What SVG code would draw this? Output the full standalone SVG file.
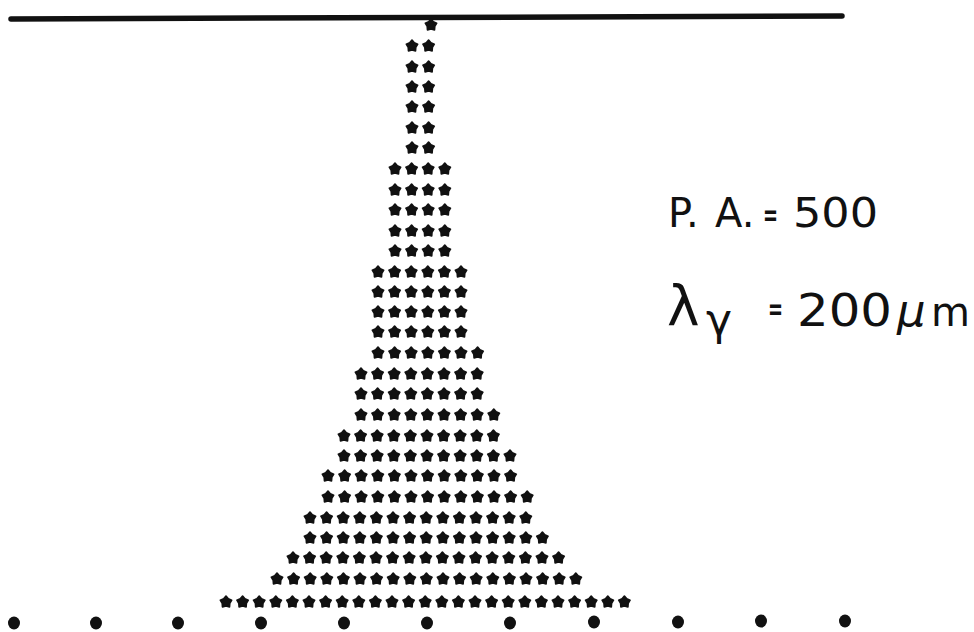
<svg xmlns="http://www.w3.org/2000/svg" width="974" height="632" viewBox="0 0 974 632">
  <style>
    .ink { fill: #111; }
    .lbl { font-family: 'DejaVu Sans', 'Liberation Sans', sans-serif; fill: #111; }
    .eq { font-family: 'DejaVu Sans', 'Liberation Sans', sans-serif; fill: #111; font-weight: bold; }
    .dot { fill: #111; }
  </style>
  <defs>
    <path id="s" class="ink" stroke="#111" stroke-width="1.6" stroke-linejoin="round"
      d="M0,-6 L2.351,-3.236 L5.706,-1.854 L3.804,1.236 L3.527,4.854 L0,4 L-3.527,4.854 L-3.804,1.236 L-5.706,-1.854 L-2.351,-3.236 Z"/>
    <g id="p2"><use href="#s"/><use href="#s" x="16.6"/></g>
    <g id="p4"><use href="#p2"/><use href="#p2" x="33.2"/></g>
    <g id="p8"><use href="#p4"/><use href="#p4" x="66.4"/></g>
    <g id="p16"><use href="#p8"/><use href="#p8" x="132.8"/></g>
  </defs>
  <rect width="974" height="632" fill="#fff"/>

  <g id="top-line">
    <line x1="11" y1="19" x2="842" y2="16" stroke="#111" stroke-width="5.5" stroke-linecap="round"/>
  </g>

  <g id="stars">
    <use href="#s" x="431" y="25"/>
    <use href="#p2" x="412" y="46"/>
    <use href="#p2" x="412" y="67"/>
    <use href="#p2" x="412" y="87"/>
    <use href="#p2" x="412" y="107"/>
    <use href="#p2" x="412" y="128"/>
    <use href="#p2" x="412" y="148"/>
    <use href="#p4" x="395" y="169"/>
    <use href="#p4" x="395" y="190"/>
    <use href="#p4" x="395" y="210"/>
    <use href="#p4" x="395" y="231"/>
    <use href="#p4" x="395" y="251"/>
    <g transform="translate(378,272)"><use href="#p4"/><use href="#p2" x="66.4"/></g>
    <g transform="translate(378,292)"><use href="#p4"/><use href="#p2" x="66.4"/></g>
    <g transform="translate(378,312)"><use href="#p4"/><use href="#p2" x="66.4"/></g>
    <g transform="translate(378,332)"><use href="#p4"/><use href="#p2" x="66.4"/></g>
    <g transform="translate(378,353)"><use href="#p4"/><use href="#p2" x="66.4"/><use href="#s" x="99.6"/></g>
    <use href="#p8" x="361" y="374"/>
    <use href="#p8" x="361" y="394"/>
    <g transform="translate(361,415)"><use href="#p8"/><use href="#s" x="132.8"/></g>
    <g transform="translate(344,436)"><use href="#p8"/><use href="#p2" x="132.8"/></g>
    <g transform="translate(344,456)"><use href="#p8"/><use href="#p2" x="132.8"/><use href="#s" x="166"/></g>
    <g transform="translate(328,476)"><use href="#p8"/><use href="#p4" x="132.8"/></g>
    <g transform="translate(328,497)"><use href="#p8"/><use href="#p4" x="132.8"/><use href="#s" x="199.2"/></g>
    <g transform="translate(310,518)"><use href="#p8"/><use href="#p4" x="132.8"/><use href="#p2" x="199.2"/></g>
    <g transform="translate(310,538)"><use href="#p8"/><use href="#p4" x="132.8"/><use href="#p2" x="199.2"/><use href="#s" x="232.4"/></g>
    <g transform="translate(293,558)"><use href="#p16"/><use href="#s" x="265.6"/></g>
    <g transform="translate(277,579)"><use href="#p16"/><use href="#p2" x="265.6"/><use href="#s" x="298.8"/></g>
    <g transform="translate(226,602)"><use href="#p16"/><use href="#p8" x="265.6"/><use href="#s" x="398.4"/></g>
  </g>

  <g id="dots">
    <ellipse class="dot" cx="14" cy="623" rx="6" ry="6.5"/>
    <ellipse class="dot" cx="96" cy="623" rx="6" ry="6.5"/>
    <ellipse class="dot" cx="178" cy="623" rx="6" ry="6.5"/>
    <ellipse class="dot" cx="261" cy="623" rx="6" ry="6.5"/>
    <ellipse class="dot" cx="344" cy="623" rx="6" ry="6.5"/>
    <ellipse class="dot" cx="427" cy="623" rx="6" ry="6.5"/>
    <ellipse class="dot" cx="510" cy="623" rx="6" ry="6.5"/>
    <ellipse class="dot" cx="594" cy="622" rx="6" ry="6.5"/>
    <ellipse class="dot" cx="678" cy="622" rx="6" ry="6.5"/>
    <ellipse class="dot" cx="761" cy="621" rx="6" ry="6.5"/>
    <ellipse class="dot" cx="845" cy="621" rx="6" ry="6.5"/>
  </g>

  <g id="labels">
    <text class="lbl" font-size="40">
      <tspan x="668" y="227">P.</tspan><tspan x="715" y="227">A.</tspan>
    </text>
    <text class="eq" font-size="30" x="763" y="225" textLength="15" lengthAdjust="spacingAndGlyphs">=</text>
    <text class="lbl" font-size="40" x="793" y="227" textLength="85" lengthAdjust="spacingAndGlyphs">500</text>

    <text class="lbl" font-size="55" x="667" y="325">λ</text>
    <text class="lbl" font-size="44" x="706" y="335">γ</text>
    <text class="eq" font-size="30" x="768" y="319" textLength="15" lengthAdjust="spacingAndGlyphs">=</text>
    <text class="lbl" font-size="45" x="797" y="326" textLength="95" lengthAdjust="spacingAndGlyphs">200</text>
    <text class="lbl" font-size="45" font-style="italic" x="897" y="326">μ</text>
    <text class="lbl" font-size="40" x="931" y="326">m</text>
  </g>
</svg>
